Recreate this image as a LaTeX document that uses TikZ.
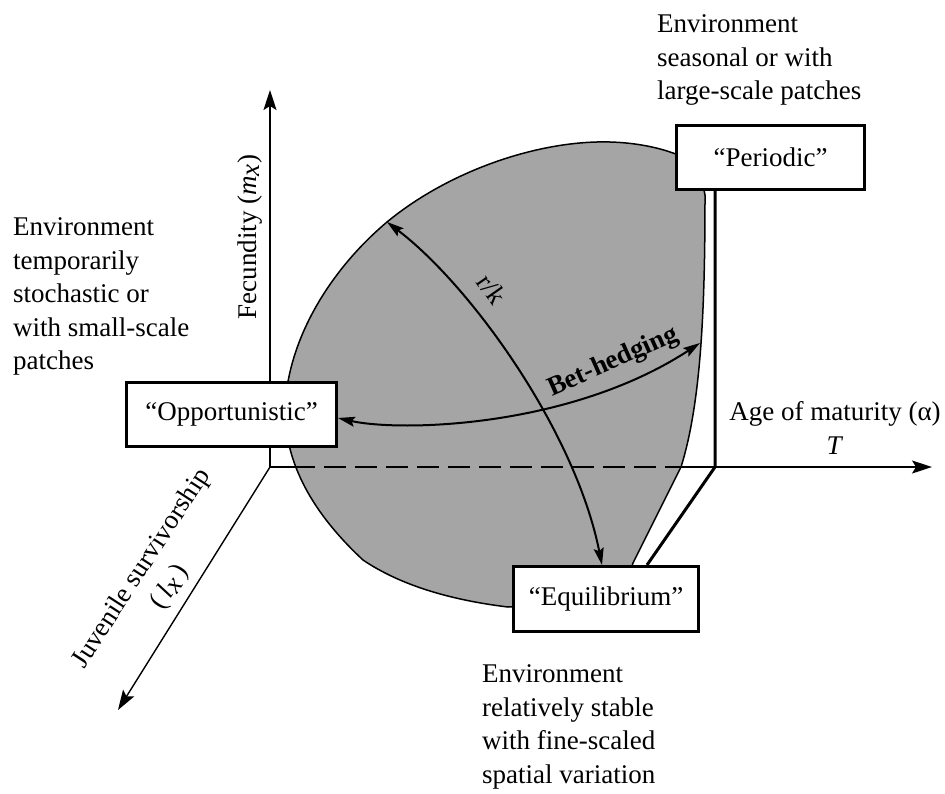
\documentclass[tikz,border=0pt]{standalone}
\usepackage{fontspec}
\setmainfont{Liberation Serif}
\usetikzlibrary{arrows.meta}
\definecolor{blobgray}{RGB}{165,165,165}
\begin{document}
\begin{tikzpicture}[x=1pt,y=-1pt,
  every node/.style={font=\fontsize{27}{33.5}\selectfont, inner sep=0pt},
  labelbox/.style={draw, line width=3pt, fill=white},
  envtext/.style={align=left, anchor=north west},
  axisline/.style={line width=1.4pt},
  axtip/.style={-{Stealth[length=20pt,width=13pt,inset=4pt]}},
  curvearrow/.style={line width=2pt, {Stealth[length=17pt,width=10pt,inset=3pt]}-{Stealth[length=17pt,width=10pt,inset=3pt]}},
  frameline/.style={line width=3pt},
  hidden/.style={line width=2.5pt, dash pattern=on 22pt off 9pt}]
\useasboundingbox (0,0) rectangle (945,793);

% shaded region
\draw[fill=blobgray, line width=1.5pt]
  (285,410) .. controls (287,340) and (330,270) .. (387,222)
  .. controls (450,170) and (540,140) .. (610,142)
  .. controls (650,143) and (690,155) .. (700,170)
  -- (705,195)
  .. controls (705,300) and (702,400) .. (681,467)
  -- (633,563) -- (620,600) -- (508,607)
  .. controls (450,600) and (400,585) .. (363,560)
  .. controls (320,520) and (285,470) .. (285,410) -- cycle;

% axes
\coordinate (O) at (270,467);
\coordinate (ytip) at (270,90);
\coordinate (xtip) at (932,467);
\coordinate (ztip) at (118,710);
\coordinate (din) at (293,467);
\coordinate (dout) at (681,467);
\draw[axisline, axtip] (O) -- (ytip);
\draw[axisline, axtip] (O) -- (ztip);
\draw[axisline] (O) -- (din);
\draw[hidden] (din) -- (dout);
\draw[axisline, axtip] (dout) -- (xtip);

% boxes
\node[labelbox, minimum width=188pt, minimum height=64pt] (periodic) at (770.5,157.5) {“Periodic”};
\node[labelbox, minimum width=210pt, minimum height=64pt] (opp) at (231.5,414.5) {“Opportunistic”};
\node[labelbox, minimum width=185pt, minimum height=65pt] (equil) at (606,599) {“Equilibrium”};

% frame lines
\coordinate (pcorner) at (715,467);
\coordinate (ecorner) at (647,565);
\draw[frameline] (periodic.south -| pcorner) -- (pcorner) -- (ecorner);

% curved arrows
\coordinate (rktop) at (387,222);
\draw[curvearrow] (rktop) .. controls (470,285) and (575,430) .. ([xshift=-4pt]equil.north);
\coordinate (bhright) at (700,343);
\draw[curvearrow] ([yshift=-3.5pt]opp.east) .. controls (400,432) and (570,428) .. (bhright);

\node[rotate=-55] (rklabel) at (492,289) {r/k};
\node[rotate=24, anchor=base, font=\fontsize{27}{33.5}\selectfont\bfseries] (bhlabel) at (616,368) {Bet-hedging};

% axis labels
\node[rotate=90, anchor=base] (fec) at (256,237) {Fecundity (\textit{m}$_{\textit{x}}$)};
\node[rotate=57, align=center] (juv) at (156,578) {Juvenile survivorship\\(\,\textit{l}$_{\textit{x}}$\,)};
\node[align=center, anchor=north] (age) at (835,401.5) {Age of maturity (α)\\\textit{T}};

% environment texts
\node[envtext] (envtop) at (657,14.6) {Environment\\seasonal or with\\large-scale patches};
\node[envtext] (envleft) at (13,217.6) {Environment\\temporarily\\stochastic or\\with small-scale\\patches};
\node[envtext] (envbot) at (482,664.6) {Environment\\relatively stable\\with fine-scaled\\spatial variation};
\end{tikzpicture}
\end{document}
